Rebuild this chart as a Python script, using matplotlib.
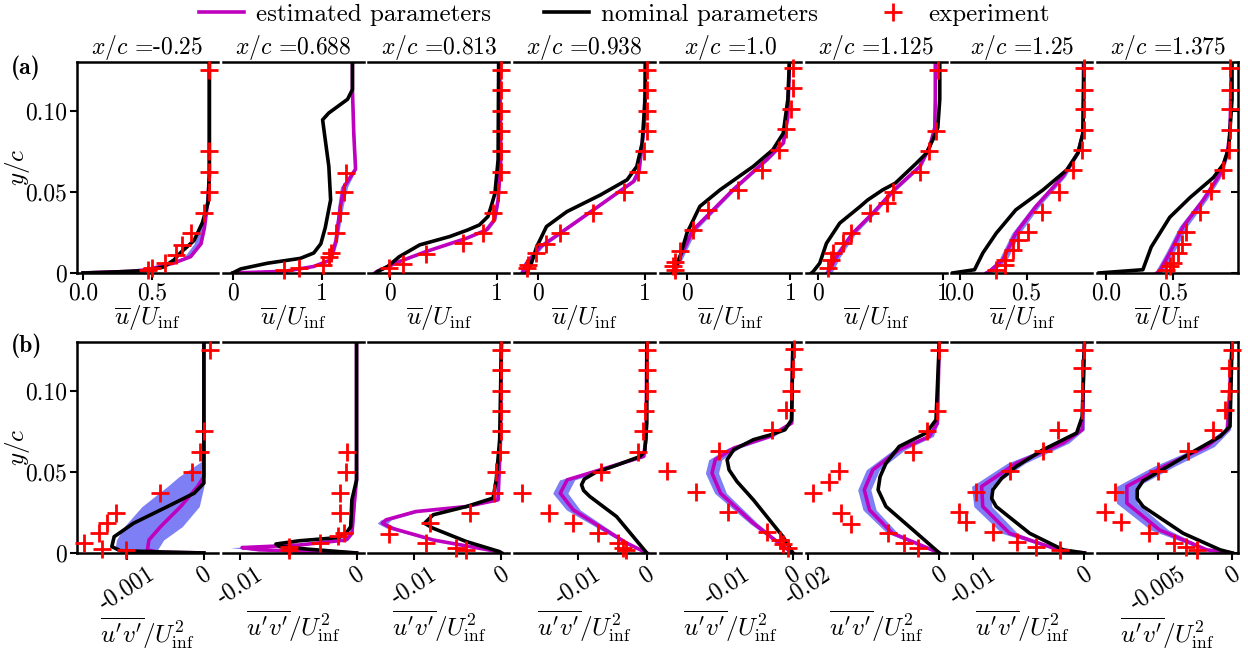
import numpy as np
import matplotlib
matplotlib.use("Agg")
import matplotlib.pyplot as plt
from matplotlib.lines import Line2D

plt.rcParams['font.family'] = 'serif'
plt.rcParams['font.serif'] = ['cmr10']
plt.rcParams['mathtext.fontset'] = 'cm'
plt.rcParams['axes.formatter.use_mathtext'] = True
plt.rcParams['font.size'] = 17

stations = ['-0.25', '0.688', '0.813', '0.938', '1.0', '1.125', '1.25', '1.375']

# ---- mean velocity u/U_inf ----
u_nom_y = [
    [0, 0.0007, 0.0015, 0.0037, 0.008, 0.0123, 0.020, 0.031, 0.043, 0.06, 0.13],
    [0, 0.0025, 0.006, 0.009, 0.0123, 0.018, 0.028, 0.045, 0.0656, 0.086, 0.0944, 0.0986, 0.107, 0.113, 0.13],
    [0, 0.0008, 0.004, 0.010, 0.0173, 0.0224, 0.0265, 0.0296, 0.0348, 0.041, 0.049, 0.0697, 0.13],
    [0, 0.006, 0.016, 0.0286, 0.0378, 0.048, 0.0574, 0.0656, 0.080, 0.11, 0.13],
    [0, 0.010, 0.0245, 0.041, 0.0512, 0.0656, 0.0759, 0.086, 0.107, 0.13],
    [0, 0.0008, 0.006, 0.0183, 0.0307, 0.041, 0.045, 0.0512, 0.0553, 0.0677, 0.0739, 0.082, 0.0895, 0.107, 0.13],
    [0, 0.002, 0.0123, 0.0245, 0.0389, 0.051, 0.0635, 0.0739, 0.086, 0.13],
    [0, 0.002, 0.016, 0.0343, 0.0465, 0.0588, 0.067, 0.077, 0.107, 0.13],
]
u_nom_x = [
    [0.0, 0.25, 0.46, 0.58, 0.655, 0.70, 0.80, 0.86, 0.90, 0.91, 0.91],
    [0, 0.09, 0.39, 0.76, 0.91, 0.99, 1.04, 1.10, 1.08, 1.03, 1.01, 1.08, 1.29, 1.345, 1.345],
    [-0.13, -0.116, -0.02, 0.088, 0.28, 0.56, 0.73, 0.84, 0.92, 0.95, 0.985, 1.015, 1.02],
    [-0.105, -0.06, -0.012, 0.08, 0.27, 0.58, 0.83, 0.92, 0.97, 1.0, 1.0],
    [-0.13, -0.067, 0, 0.125, 0.32, 0.64, 0.83, 0.93, 0.975, 0.99],
    [-0.05, -0.037, 0.016, 0.07, 0.176, 0.34, 0.40, 0.52, 0.62, 0.79, 0.87, 0.92, 0.96, 0.976, 0.976],
    [-0.05, 0.112, 0.174, 0.274, 0.42, 0.62, 0.80, 0.883, 0.92, 0.93],
    [-0.053, 0.275, 0.338, 0.477, 0.63, 0.805, 0.88, 0.92, 0.945, 0.945],
]
u_est_y = [
    [0, 0.001, 0.002, 0.006, 0.010, 0.018, 0.028, 0.045, 0.06, 0.13],
    [0, 0.001, 0.004, 0.008, 0.020, 0.041, 0.053, 0.064, 0.086, 0.113, 0.13],
    [0, 0.001, 0.007, 0.0132, 0.0214, 0.0265, 0.0327, 0.045, 0.0697, 0.13],
    [0, 0.001, 0.006, 0.016, 0.0245, 0.0389, 0.0564, 0.063, 0.091, 0.13],
    [0, 0.001, 0.010, 0.0265, 0.0512, 0.0698, 0.080, 0.096, 0.13],
    [0, 0.0019, 0.010, 0.0245, 0.0368, 0.0512, 0.0656, 0.078, 0.0895, 0.107, 0.13],
    [0, 0.001, 0.008, 0.0245, 0.041, 0.0594, 0.0739, 0.086, 0.13],
    [0, 0.001, 0.0123, 0.0286, 0.045, 0.061, 0.073, 0.086, 0.13],
]
u_est_x = [
    [0, 0.35, 0.46, 0.65, 0.775, 0.85, 0.875, 0.90, 0.91, 0.91],
    [0, 0.58, 0.91, 1.10, 1.16, 1.21, 1.25, 1.38, 1.36, 1.345, 1.345],
    [-0.14, -0.12, 0.088, 0.34, 0.72, 0.905, 0.98, 1.015, 1.04, 1.03],
    [-0.14, -0.137, -0.105, 0.02, 0.206, 0.517, 0.89, 0.94, 0.99, 1.0],
    [-0.13, -0.13, -0.065, 0.06, 0.445, 0.77, 0.93, 0.975, 0.99],
    [0.08, 0.096, 0.15, 0.28, 0.44, 0.61, 0.816, 0.896, 0.936, 0.94, 0.94],
    [0.2, 0.224, 0.323, 0.42, 0.57, 0.77, 0.883, 0.92, 0.925],
    [0.38, 0.40, 0.477, 0.578, 0.73, 0.856, 0.907, 0.93, 0.94],
]
u_band_lo = [
    [0, 0.33, 0.44, 0.61, 0.73, 0.80, 0.845, 0.89, 0.905, 0.91],
    [0, 0.57, 0.89, 1.08, 1.14, 1.18, 1.21, 1.36, 1.35, 1.34, 1.34],
    [-0.16, -0.14, 0.068, 0.32, 0.70, 0.885, 0.965, 1.005, 1.035, 1.03],
    [-0.17, -0.167, -0.135, -0.005, 0.186, 0.502, 0.875, 0.925, 0.985, 1.0],
    [-0.16, -0.16, -0.095, 0.03, 0.425, 0.75, 0.915, 0.97, 0.99],
    [0.05, 0.066, 0.12, 0.255, 0.42, 0.59, 0.80, 0.886, 0.931, 0.937, 0.937],
    [0.17, 0.194, 0.293, 0.39, 0.545, 0.75, 0.873, 0.915, 0.922],
    [0.35, 0.37, 0.447, 0.548, 0.705, 0.836, 0.897, 0.925, 0.937],
]
u_band_hi = [
    [0, 0.355, 0.465, 0.655, 0.78, 0.855, 0.88, 0.905, 0.912, 0.91],
    [0, 0.59, 0.93, 1.12, 1.18, 1.24, 1.29, 1.39, 1.37, 1.35, 1.35],
    [-0.12, -0.10, 0.108, 0.36, 0.74, 0.925, 0.995, 1.025, 1.045, 1.03],
    [-0.11, -0.107, -0.075, 0.045, 0.226, 0.532, 0.905, 0.955, 0.995, 1.0],
    [-0.10, -0.10, -0.035, 0.09, 0.465, 0.79, 0.945, 0.98, 0.99],
    [0.11, 0.126, 0.18, 0.305, 0.46, 0.63, 0.83, 0.906, 0.941, 0.943, 0.943],
    [0.23, 0.254, 0.353, 0.45, 0.595, 0.79, 0.893, 0.925, 0.928],
    [0.41, 0.43, 0.507, 0.608, 0.755, 0.876, 0.917, 0.935, 0.943],
]
u_exp_y = [
    [0.1253, 0.0749, 0.0622, 0.0496, 0.0368, 0.0245, 0.0173, 0.0111, 0.006, 0.0029, 0.002],
    [0.0615, 0.0496, 0.0368, 0.0245, 0.0123, 0.010, 0.005, 0.0029, 0.002],
    [0.1253, 0.113, 0.100, 0.0875, 0.075, 0.0622, 0.0496, 0.0372, 0.0245, 0.0183, 0.0117, 0.0056, 0.0029],
    [0.125, 0.113, 0.100, 0.0875, 0.075, 0.0622, 0.0496, 0.0368, 0.0245, 0.018, 0.0123, 0.005, 0.003],
    [0.126, 0.114, 0.101, 0.0886, 0.0759, 0.0632, 0.051, 0.0388, 0.0265, 0.0134, 0.007, 0.004, 0.002],
    [0.125, 0.0875, 0.0749, 0.0622, 0.050, 0.043, 0.0368, 0.0245, 0.0183, 0.0121, 0.008, 0.0029],
    [0.126, 0.113, 0.101, 0.088, 0.0759, 0.0632, 0.050, 0.0378, 0.0255, 0.0204, 0.0142, 0.008, 0.005, 0.002],
    [0.126, 0.113, 0.101, 0.088, 0.0759, 0.0632, 0.0507, 0.0378, 0.0255, 0.018, 0.0123, 0.006, 0.004, 0.002],
]
u_exp_x = [
    [0.908, 0.908, 0.908, 0.908, 0.872, 0.775, 0.715, 0.667, 0.594, 0.50, 0.47],
    [1.27, 1.25, 1.21, 1.16, 1.10, 1.08, 1.01, 0.745, 0.575],
    [1.04, 1.04, 1.04, 1.045, 1.045, 1.045, 1.015, 0.97, 0.875, 0.686, 0.34, 0.12, -0.006],
    [1.016, 1.016, 1.016, 1.016, 0.985, 0.93, 0.80, 0.51, 0.21, 0.08, -0.02, -0.09, -0.105],
    [1.02, 1.02, 1.007, 0.96, 0.89, 0.73, 0.49, 0.205, 0.06, -0.067, -0.115, -0.13, -0.115],
    [0.963, 0.944, 0.89, 0.816, 0.60, 0.55, 0.416, 0.27, 0.20, 0.123, 0.11, 0.083],
    [0.925, 0.93, 0.93, 0.93, 0.915, 0.846, 0.74, 0.617, 0.51, 0.435, 0.398, 0.336, 0.336, 0.27],
    [0.932, 0.932, 0.932, 0.932, 0.92, 0.88, 0.79, 0.705, 0.60, 0.566, 0.54, 0.50, 0.48, 0.45],
]

# ---- Reynolds shear stress u'v'/U_inf^2 ----
uv_nom_y = [
    [0, 0.0005, 0.0014, 0.0039, 0.010, 0.0183, 0.0286, 0.0368, 0.043, 0.13],
    [0, 0.0023, 0.004, 0.0055, 0.0075, 0.0095, 0.0121, 0.0162, 0.0327, 0.045, 0.13],
    [0, 0.0008, 0.007, 0.0152, 0.0183, 0.0235, 0.0286, 0.0338, 0.045, 0.07, 0.13],
    [0, 0.0224, 0.0348, 0.0385, 0.042, 0.0455, 0.0495, 0.0533, 0.0594, 0.0625, 0.08, 0.13],
    [0, 0.010, 0.0327, 0.044, 0.0512, 0.0574, 0.0636, 0.0698, 0.073, 0.0759, 0.082, 0.13],
    [0, 0.0142, 0.0286, 0.0389, 0.047, 0.0553, 0.0656, 0.0739, 0.082, 0.13],
    [0, 0.0019, 0.0121, 0.0286, 0.0335, 0.0389, 0.046, 0.0533, 0.0636, 0.0739, 0.084, 0.13],
    [0, 0.0019, 0.0121, 0.0286, 0.0335, 0.0389, 0.0445, 0.0492, 0.0615, 0.0718, 0.078, 0.13],
]
uv_nom_x = [
    [0, -0.00047, -0.00108, -0.00119, -0.00116, -0.00091, -0.00047, -0.000126, 0, 0],
    [0, -0.0041, -0.0066, -0.0069, -0.0049, -0.0015, -0.0009, -0.0005, -0.0004, 0, 0],
    [0, -0.0002, -0.004, -0.0078, -0.0088, -0.0078, -0.004, -0.00095, -0.0006, -0.0002, 0],
    [0, -0.0044, -0.0083, -0.0092, -0.0095, -0.0091, -0.0075, -0.0049, -0.001, -0.0003, 0, 0],
    [0, -0.0015, -0.006, -0.0085, -0.0097, -0.010, -0.009, -0.006, -0.0032, -0.0012, -0.0002, 0],
    [0, -0.004, -0.0081, -0.0093, -0.009, -0.0081, -0.0061, -0.002, -0.0005, 0],
    [0, -0.0019, -0.0049, -0.0079, -0.0083, -0.0082, -0.0074, -0.0061, -0.0037, -0.0007, -0.0002, 0],
    [0, -0.0008, -0.0033, -0.006, -0.0064, -0.0064, -0.006, -0.0051, -0.0028, -0.0008, -0.00014, 0],
]
uv_est_y = [
    [0, 0.0005, 0.0019, 0.008, 0.0162, 0.0286, 0.041, 0.0471, 0.0574, 0.13],
    [0, 0.001, 0.0019, 0.0033, 0.0049, 0.008, 0.0121, 0.03, 0.045, 0.13],
    [0, 0.0014, 0.008, 0.0152, 0.0183, 0.0204, 0.0255, 0.0286, 0.0327, 0.045, 0.07, 0.13],
    [0, 0.006, 0.0162, 0.0265, 0.0368, 0.045, 0.0512, 0.0594, 0.07, 0.13],
    [0, 0.0041, 0.0183, 0.0368, 0.0492, 0.0574, 0.0646, 0.0718, 0.080, 0.13],
    [0, 0.0121, 0.0265, 0.0389, 0.0512, 0.0636, 0.0718, 0.080, 0.13],
    [0, 0.001, 0.0121, 0.0286, 0.041, 0.0553, 0.0677, 0.076, 0.13],
    [0, 0.0019, 0.0142, 0.0307, 0.041, 0.0533, 0.0656, 0.076, 0.13],
]
uv_est_x = [
    [0, -0.0006, -0.00073, -0.00071, -0.00056, -0.0003, -0.00008, 0, 0, 0],
    [0, -0.0041, -0.0083, -0.0098, -0.0049, -0.0009, -0.0004, -0.0002, 0, 0],
    [0, -0.001, -0.0078, -0.0125, -0.0136, -0.0132, -0.0098, -0.004, -0.0004, -0.0003, -0.0001, 0],
    [0, -0.0029, -0.0068, -0.0107, -0.0126, -0.0116, -0.0068, -0.0005, -0.0001, 0],
    [0, -0.0015, -0.006, -0.011, -0.0123, -0.0118, -0.009, -0.0035, -0.0002, 0],
    [0, -0.0071, -0.0106, -0.0114, -0.0101, -0.0061, -0.0015, -0.0003, 0],
    [0, -0.0019, -0.0067, -0.0091, -0.0092, -0.0061, -0.0019, -0.0002, 0],
    [0, -0.0017, -0.0049, -0.0071, -0.0071, -0.0046, -0.0017, -0.0003, 0],
]
uv_band_lo = [
    [0, -0.0009, -0.00115, -0.00113, -0.00103, -0.0008, -0.00047, -0.00032, 0, 0],
    [0, -0.0045, -0.009, -0.0108, -0.0055, -0.0011, -0.0005, -0.0003, 0, 0],
    [0, -0.0012, -0.0082, -0.0131, -0.0142, -0.0138, -0.0103, -0.0044, -0.0006, -0.0004, -0.0002, 0],
    [0, -0.0033, -0.0075, -0.0117, -0.0137, -0.0127, -0.0076, -0.0008, -0.0002, 0],
    [0, -0.0018, -0.0066, -0.0119, -0.0133, -0.0128, -0.0099, -0.0041, -0.0004, 0],
    [0, -0.0079, -0.0116, -0.0124, -0.0111, -0.007, -0.0021, -0.0005, 0],
    [0, -0.0021, -0.0074, -0.0099, -0.0101, -0.0069, -0.0024, -0.0004, 0],
    [0, -0.0019, -0.0055, -0.0078, -0.0078, -0.0053, -0.0022, -0.0005, 0],
]
uv_band_hi = [
    [0, -0.0004, -0.0006, -0.00052, -0.00028, -0.00006, 0, 0, 0, 0],
    [0, -0.0037, -0.0075, -0.009, -0.0043, -0.0007, -0.0003, -0.0001, 0, 0],
    [0, -0.0008, -0.0074, -0.0119, -0.013, -0.0126, -0.0093, -0.0036, -0.0002, -0.0002, 0, 0],
    [0, -0.0025, -0.0061, -0.0097, -0.0115, -0.0105, -0.006, -0.0002, 0, 0],
    [0, -0.0012, -0.0054, -0.0101, -0.0113, -0.0108, -0.0081, -0.0029, 0, 0],
    [0, -0.0063, -0.0096, -0.0104, -0.0091, -0.0052, -0.0009, -0.0001, 0],
    [0, -0.0017, -0.006, -0.0083, -0.0083, -0.0053, -0.0014, 0, 0],
    [0, -0.0015, -0.0043, -0.0064, -0.0064, -0.0039, -0.0012, -0.0001, 0],
]
uv_exp_y = [
    [0.1253, 0.0749, 0.0625, 0.0496, 0.0368, 0.0249, 0.0187, 0.0125, 0.006, 0.0023, 0.0019],
    [0.0625, 0.0496, 0.0368, 0.0245, 0.0121, 0.0105, 0.006, 0.0039, 0.0019],
    [0.1253, 0.1125, 0.100, 0.0875, 0.0749, 0.0625, 0.050, 0.0368, 0.0245, 0.0183, 0.0117, 0.006, 0.0029, 0.0019],
    [0.1253, 0.1125, 0.100, 0.0875, 0.0749, 0.0625, 0.050, 0.0368, 0.0249, 0.0187, 0.0125, 0.0063, 0.0029, 0.0019],
    [0.1255, 0.1132, 0.100, 0.0879, 0.0755, 0.063, 0.0506, 0.0377, 0.0253, 0.013, 0.0079, 0.0054, 0.0028],
    [0.1253, 0.0875, 0.0749, 0.0625, 0.0502, 0.044, 0.0372, 0.0249, 0.0179, 0.0121, 0.006, 0.0033],
    [0.1253, 0.114, 0.100, 0.0879, 0.0755, 0.063, 0.0506, 0.0377, 0.0253, 0.019, 0.013, 0.0068, 0.0037, 0.0019],
    [0.1253, 0.114, 0.100, 0.0879, 0.0755, 0.063, 0.0506, 0.0377, 0.0253, 0.019, 0.0125, 0.0064, 0.0037, 0.0019],
]
uv_exp_x = [
    [0.00008, 0, -0.00005, -0.00016, -0.00057, -0.00114, -0.00125, -0.00136, -0.00155, -0.00132, -0.00101],
    [-0.0008, -0.0009, -0.0014, -0.0014, -0.0011, -0.0016, -0.0031, -0.0058, -0.0058],
    [0, 0, 0, 0, -0.0001, -0.0002, -0.0006, -0.0008, -0.0036, -0.0082, -0.0128, -0.0086, -0.0052, -0.004],
    [0, 0, 0, -0.0003, -0.0006, -0.0013, -0.0066, -0.0182, -0.0142, -0.0107, -0.0071, -0.0042, -0.0034, -0.003],
    [0.0002, 0, -0.0003, -0.0011, -0.0031, -0.0113, -0.0191, -0.0147, -0.0098, -0.004, -0.002, -0.0015, -0.0008],
    [0, -0.0004, -0.0018, -0.004, -0.0152, -0.0167, -0.0192, -0.0149, -0.0134, -0.0078, -0.0053, -0.0033],
    [0, -0.0002, -0.0002, -0.0002, -0.0024, -0.0037, -0.0067, -0.0097, -0.0112, -0.0106, -0.0082, -0.006, -0.0043, -0.0022],
    [0, -0.0002, -0.0002, -0.0005, -0.0013, -0.003, -0.005, -0.0079, -0.0086, -0.0075, -0.0056, -0.0039, -0.0031, -0.0024],
]

u_ticks = [[0, 0.5], [0, 1], [0, 1], [0, 1], [0, 1], [0, 1], [0, 0.5], [0, 0.5]]
u_ticklabels = [['0.0', '0.5'], ['0', '1'], ['0', '1'], ['0', '1'], ['0', '1'], ['0', '1'],
                ['0.0', '0.5'], ['0.0', '0.5']]
uv_ticks = [[-0.001, 0], [-0.01, 0], [-0.01, 0], [-0.01, 0], [-0.01, 0], [-0.02, 0], [-0.01, 0], [-0.005, 0]]
uv_ticklabels = [['-0.001', '0'], ['-0.01', '0'], ['-0.01', '0'], ['-0.01', '0'], ['-0.01', '0'],
                 ['-0.02', '0'], ['-0.01', '0'], ['-0.005', '0']]

u_xlim = [(-0.043, 0.971), (-0.112, 1.47), (-0.2, 1.12), (-0.22, 1.09), (-0.26, 1.10),
          (-0.096, 1.03), (-0.06, 0.99), (-0.068, 0.99)]
uv_xlim = [(-0.00164, 0.00018), (-0.01145, 0.0006), (-0.0152, 0.0009), (-0.0193, 0.0012),
           (-0.0202, 0.0012), (-0.0203, 0.0011), (-0.0119, 0.0007), (-0.0091, 0.0004)]

EST_C = '#bf00bf'
BAND_C = '#7f7ff5'
LW = 2.6
FS = 17

fig, axes = plt.subplots(2, 8, figsize=(12.48, 6.49), dpi=100)
fig.subplots_adjust(left=0.0617, right=0.992, top=0.9045, bottom=0.148, wspace=0.035, hspace=0.327)


def draw_panel(ax, j, ny, nx, ey, ex, lo, hi, py, px):
    ax.fill_betweenx(ey, lo, hi, color=BAND_C, lw=0, zorder=1)
    ax.plot(ex, ey, color=EST_C, lw=LW, zorder=2, solid_joinstyle='round')
    ax.plot(nx, ny, color='k', lw=LW, zorder=3, solid_joinstyle='round')
    ax.plot(px, py, ls='none', marker='+', ms=13, mew=2, color='red', zorder=4, clip_on=False)
    ax.set_ylim(0, 0.13)
    for s in ['top', 'bottom', 'left', 'right']:
        ax.spines[s].set_linewidth(1.8)
    ax.spines['left'].set_visible(j == 0)
    ax.spines['right'].set_visible(j == 7)
    ax.tick_params(axis='x', direction='out', length=5, width=1.5, labelsize=FS, pad=2)
    ax.tick_params(axis='y', left=(j == 0), labelleft=(j == 0), right=(j == 7), labelright=False,
                   direction='out' if j == 0 else 'in', length=5, width=1.5, labelsize=FS, pad=2)
    ax.set_yticks([0, 0.05, 0.10])
    ax.set_yticklabels(['0', '0.05', '0.10'])
    if j == 0:
        ax.set_ylabel(r'$y/c$', fontsize=18)
        ax.yaxis.set_label_coords(-0.32, 0.5)


for j in range(8):
    ax = axes[0, j]
    draw_panel(ax, j, u_nom_y[j], u_nom_x[j], u_est_y[j], u_est_x[j], u_band_lo[j], u_band_hi[j],
               u_exp_y[j], u_exp_x[j])
    ax.set_xlim(*u_xlim[j])
    ax.set_xticks(u_ticks[j])
    ax.set_xticklabels(u_ticklabels[j])
    ax.set_xlabel(r'$\overline{u}/U_{\rm inf}$', fontsize=18, labelpad=-1)
    ax.set_title(r'$x/c$ =' + stations[j], fontsize=FS, pad=3)

    ax = axes[1, j]
    draw_panel(ax, j, uv_nom_y[j], uv_nom_x[j], uv_est_y[j], uv_est_x[j], uv_band_lo[j], uv_band_hi[j],
               uv_exp_y[j], uv_exp_x[j])
    ax.set_xlim(*uv_xlim[j])
    ax.set_xticks(uv_ticks[j])
    ax.set_xticklabels(uv_ticklabels[j], rotation=33)
    ax.set_xlabel(r"$\overline{u'v'}/U_{\rm inf}^2$", fontsize=18, labelpad=0)

fig.text(0.009, 0.895, '(a)', fontfamily='cmb10', fontsize=17, va='center')
fig.text(0.009, 0.468, '(b)', fontfamily='cmb10', fontsize=17, va='center')

handles = [Line2D([], [], color=EST_C, lw=LW),
           Line2D([], [], color='k', lw=LW),
           Line2D([], [], ls='none', marker='+', ms=13, mew=2, color='red')]
fig.legend(handles, ['estimated parameters', 'nominal parameters', 'experiment'],
           loc='upper center', bbox_to_anchor=(0.5, 1.03), ncol=3, frameon=False,
           fontsize=18, handlelength=1.8, handletextpad=0.5, columnspacing=2.1)

fig.savefig('out.png', dpi=100)
